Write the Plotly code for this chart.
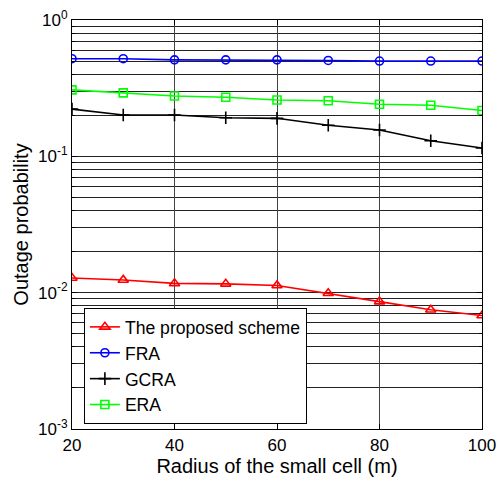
import plotly.graph_objects as go

radius = [20, 30, 40, 50, 60, 70, 80, 90, 100]
proposed = [0.0128, 0.0124, 0.0117, 0.0116, 0.0113, 0.0099, 0.0086, 0.0075, 0.0068]
fra = [0.52, 0.52, 0.51, 0.51, 0.51, 0.505, 0.50, 0.50, 0.50]
gcra = [0.222, 0.201, 0.201, 0.192, 0.190, 0.169, 0.156, 0.130, 0.115]
era = [0.307, 0.292, 0.277, 0.271, 0.259, 0.256, 0.241, 0.237, 0.217]

x_ticks = [20, 40, 60, 80, 100]
y_ticks = [1e-3, 1e-2, 1e-1, 1]
y_ticklabels = ["10<sup>-3</sup>", "10<sup>-2</sup>", "10<sup>-1</sup>", "10<sup>0</sup>"]
y_minor = [m * 10.0 ** e for e in (-3, -2, -1) for m in range(2, 10)]

series = [
    ("The proposed scheme", proposed, "red", "triangle-up-open", 9),
    ("FRA", fra, "blue", "circle-open", 8),
    ("GCRA", gcra, "black", "cross-thin-open", 9),
    ("ERA", era, "#00ff00", "square-open", 8),
]

FAMILY = "Liberation Sans"

fig = go.Figure()
for name, vals, color, sym, size in series:
    fig.add_trace(go.Scatter(
        x=radius, y=vals, name=name, mode="lines+markers",
        line=dict(color=color, width=1.6),
        marker=dict(symbol=sym, size=size, color=color, line=dict(color=color, width=1.6)),
    ))

fig.update_layout(
    width=497, height=477,
    margin=dict(l=72, r=15, t=20, b=48),
    paper_bgcolor="white", plot_bgcolor="white",
    font=dict(family=FAMILY, size=17, color="black"),
    showlegend=True,
    legend=dict(
        x=0.029, y=0.296, xanchor="left", yanchor="top",
        bgcolor="white", bordercolor="black", borderwidth=1,
        font=dict(family=FAMILY, size=17.6, color="black"),
        tracegroupgap=0,
    ),
)
fig.update_xaxes(
    range=[20, 100], tickvals=x_ticks, automargin=False, ticklabeloverflow="allow",
    showgrid=True, gridcolor="#444", gridwidth=1,
    showline=True, linecolor="black", linewidth=1.2, mirror="allticks",
    ticks="inside", ticklen=5, tickcolor="black",
    zeroline=False,
    title=dict(text="Radius of the small cell (m)", standoff=4),
)
fig.update_yaxes(
    type="log", range=[-3, 0], automargin=False, ticklabeloverflow="allow",
    tickvals=y_ticks, ticktext=y_ticklabels,
    showgrid=True, gridcolor="#222", gridwidth=1,
    minor=dict(tickvals=y_minor, showgrid=True, gridcolor="#222", gridwidth=1,
               ticks="inside", ticklen=3, tickcolor="black"),
    showline=True, linecolor="black", linewidth=1.2, mirror="allticks",
    ticks="inside", ticklen=5, tickcolor="black",
    zeroline=False,
    title=dict(text="Outage probability", standoff=4),
)
fig.write_html(
    "out.html",
    config={"displayModeBar": False},
    post_script="document.body.style.margin='0';document.body.style.overflow='hidden';",
)
